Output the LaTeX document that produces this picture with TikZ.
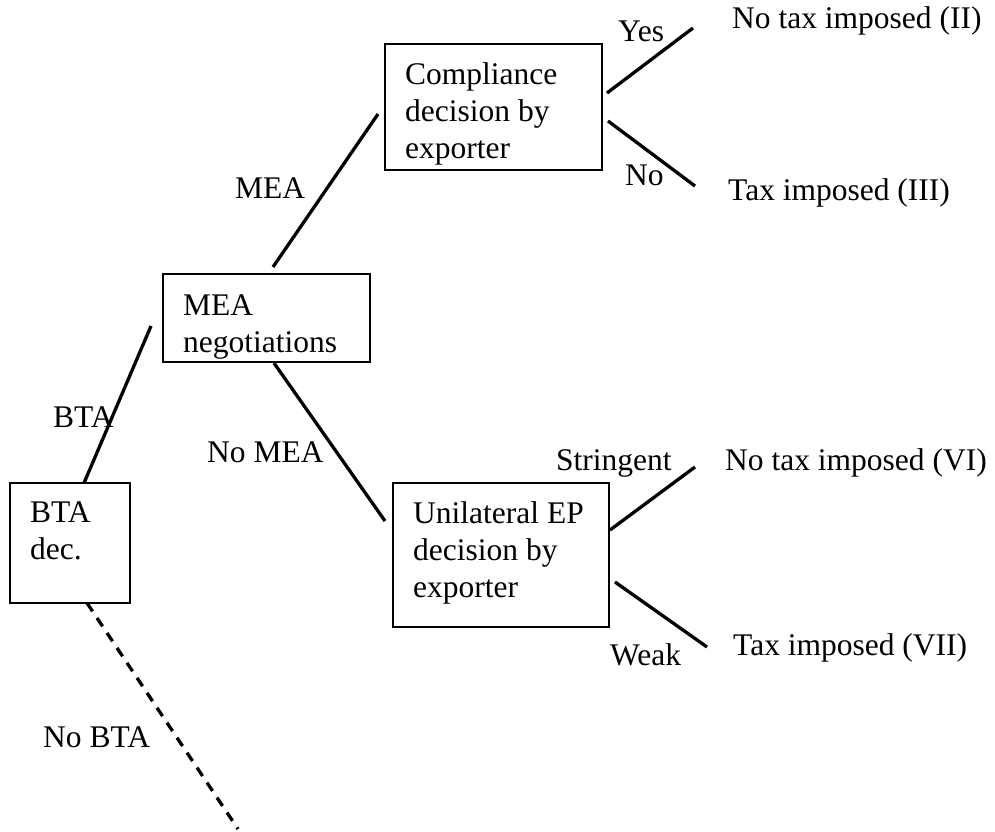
\documentclass[tikz,border=0pt]{standalone}
\usepackage{fontspec}
\setmainfont{Liberation Serif}
\newcommand{\lines}[1]{\vtop{\baselineskip=37pt\lineskiplimit=0pt\halign{##\hfil\cr#1\crcr}}}
\begin{document}
\begin{tikzpicture}[x=1pt,y=-1pt,
  every node/.style={font=\fontsize{31.5}{37}\selectfont},
  box/.style={draw,line width=1.5pt,inner sep=0pt,minimum width=#1},
  lbl/.style={anchor=base west,inner sep=0pt},
  branch/.style={line width=3.3pt},
  nobranch/.style={line width=3.3pt,dash pattern=on 10pt off 8pt}]
\useasboundingbox[fill=white] (0,0) rectangle (995,831);
% boxes
\node[box=217pt,minimum height=126pt] (comp) at (493.5,107) {};
\node[box=207pt,minimum height=88pt] (neg) at (266.5,318) {};
\node[box=120pt,minimum height=120pt] (bta) at (70,543) {};
\node[box=216pt,minimum height=144pt] (uni) at (501,555) {};
% box texts
\node[lbl] (compT) at (405,84) {\lines{Compliance\cr decision by\cr exporter}};
\begin{scope}
\clip (neg.south west) rectangle (neg.north east);
\node[lbl] (negT) at (183,315) {\lines{MEA\cr negotiations}};
\end{scope}
\node[lbl] (btaT) at (30,522) {\lines{BTA\cr dec.}};
\node[lbl] (uniT) at (413,523) {\lines{Unilateral EP\cr decision by\cr exporter}};
% connector end points
\coordinate (cYesA) at (607,93);  \coordinate (cYesB) at (693,28);
\coordinate (cNoA) at (608,121);  \coordinate (cNoB) at (695,186);
\coordinate (mA) at (273,267);    \coordinate (mB) at (378,114);
\coordinate (bA) at (84,483);     \coordinate (bB) at (151,326);
\coordinate (nmA) at (274,363);   \coordinate (nmB) at (385,521);
\coordinate (sA) at (610,530);    \coordinate (sB) at (695,467);
\coordinate (wA) at (615,582);    \coordinate (wB) at (707,647);
\coordinate (nbA) at (87,603);    \coordinate (nbB) at (238,829);
\draw[branch] (cYesA) -- (cYesB);
\draw[branch] (cNoA) -- (cNoB);
\draw[branch] (mA) -- (mB);
\draw[branch] (bA) -- (bB);
\draw[branch] (nmA) -- (nmB);
\draw[branch] (sA) -- (sB);
\draw[branch] (wA) -- (wB);
\draw[nobranch] (nbA) -- (nbB);
% labels
\node[lbl] (yes) at (618,41) {Yes};
\node[lbl] (r2) at (732,28) {No tax imposed (II)};
\node[lbl] (no) at (625,185) {No};
\node[lbl] (r3) at (728,200) {Tax imposed (III)};
\node[lbl] (mea) at (235,198) {MEA};
\node[lbl] (btaL) at (53,427) {BTA};
\node[lbl] (nomea) at (207,462) {No MEA};
\node[lbl] (str) at (556,470) {Stringent};
\node[lbl] (r6) at (725,470) {No tax imposed (VI)};
\node[lbl] (weak) at (610,665) {Weak};
\node[lbl] (r7) at (733,655) {Tax imposed (VII)};
\node[lbl] (nobta) at (43,747) {No BTA};
\end{tikzpicture}
\end{document}
